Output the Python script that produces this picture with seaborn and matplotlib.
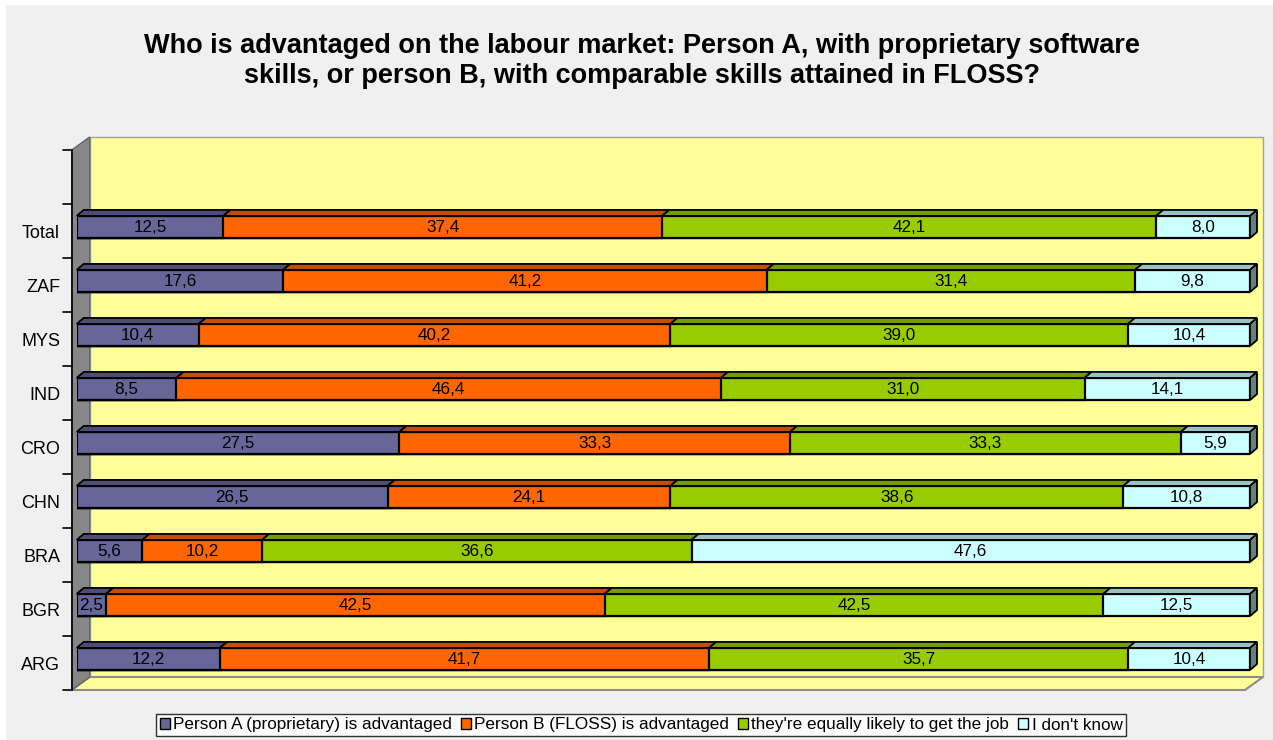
import matplotlib
matplotlib.use("Agg")
import matplotlib.pyplot as plt
import seaborn as sns
from matplotlib.patches import Polygon, Rectangle, Patch
from matplotlib.lines import Line2D
from matplotlib.transforms import IdentityTransform, ScaledTranslation
import matplotlib.colors as mcolors

# ---- data -------------------------------------------------------------
countries = ["Total", "ZAF", "MYS", "IND", "CRO", "CHN", "BRA", "BGR", "ARG"]
person_a = [12.5, 17.6, 10.4, 8.5, 27.5, 26.5, 5.6, 2.5, 12.2]
person_b = [37.4, 41.2, 40.2, 46.4, 33.3, 24.1, 10.2, 42.5, 41.7]
equal = [42.1, 31.4, 39.0, 31.0, 33.3, 38.6, 36.6, 42.5, 35.7]
dont_know = [8.0, 9.8, 10.4, 14.1, 5.9, 10.8, 47.6, 12.5, 10.4]

series_names = [
    "Person A (proprietary) is advantaged",
    "Person B (FLOSS) is advantaged",
    "they're equally likely to get the job",
    "I don't know",
]
series_colors = ["#666699", "#FF6600", "#99CC00", "#CCFFFF"]
title = ("Who is advantaged on the labour market: Person A, with proprietary software\n"
         "skills, or person B, with comparable skills attained in FLOSS?")

# ---- style ------------------------------------------------------------
sns.set_style("white")
plt.rcParams["font.family"] = ["Liberation Sans", "DejaVu Sans"]
plt.rcParams["text.color"] = "black"

W, H = 1273, 740
fig = plt.figure(figsize=(W / 100, H / 100), dpi=100, facecolor="#F0F0F0")
fig.add_artist(Rectangle((0, 1 - 5 / H), 1, 5 / H, transform=fig.transFigure,
                         facecolor="white", edgecolor="none"))
fig.add_artist(Rectangle((0, 0), 6 / W, 1, transform=fig.transFigure,
                         facecolor="white", edgecolor="none"))

ax = fig.add_axes([76.7 / W, 54 / H, 1173.3 / W, 540 / H])
ax.patch.set_visible(False)

series = [person_a, person_b, equal, dont_know]
n = len(countries)
bar_w = 0.41

# stacked bars: draw cumulative totals from the outermost segment inward
cums = []
run = [0.0] * n
for s in series:
    run = [r + v for r, v in zip(run, s)]
    cums.append(run)
for k in reversed(range(len(series))):
    sns.barplot(x=cums[k], y=countries, order=countries, orient="h",
                color=series_colors[k], saturation=1, width=bar_w,
                edgecolor="black", linewidth=1.6, ax=ax, zorder=2)

ax.set_xlim(0, 100)
ax.set_ylim(n - 0.5, -1.5)
for sp in ax.spines.values():
    sp.set_visible(False)
ax.set_xticks([])
ax.set_xlabel("")
ax.set_ylabel("")
ax.set_yticks(range(n))
ax.set_yticklabels(countries, fontsize=13, color="black")
ax.tick_params(axis="y", length=0, pad=12)
for lab in ax.get_yticklabels():
    lab.set_transform(lab.get_transform() +
                      ScaledTranslation(0, -0.04, fig.dpi_scale_trans))

# ---- pseudo-3D frame --------------------------------------------------
FRONT = (-5, -4)
BACK = (13, 9)
BAR_DEPTH = (7, 6)


def px(x, y, off=(0, 0)):
    p = ax.transData.transform((x, y))
    return (p[0] + off[0], p[1] + off[1])


def poly(pts, fc, ec, lw=1.0, z=0.5):
    ax.add_patch(Polygon(pts, closed=True, transform=IdentityTransform(),
                         facecolor=fc, edgecolor=ec, linewidth=lw,
                         clip_on=False, zorder=z))


y_top, y_bot = -1.5, n - 0.5
# back wall
poly([px(0, y_top, BACK), px(100, y_top, BACK), px(100, y_bot, BACK), px(0, y_bot, BACK)],
     "#FFFF99", "#A0A0A0", 1.0, 0.3)
# floor
poly([px(0, y_bot, FRONT), px(100, y_bot, FRONT), px(100, y_bot, BACK), px(0, y_bot, BACK)],
     "#FFFF99", "#8C8C8C", 1.5, 0.4)
# left wall
poly([px(0, y_top, FRONT), px(0, y_bot, FRONT), px(0, y_bot, BACK), px(0, y_top, BACK)],
     "#878787", "#666666", 1.0, 0.5)

# vertical axis line and tick marks on the front plane
a0, a1 = px(0, y_top, FRONT), px(0, y_bot, FRONT)
ax.add_line(Line2D([a0[0], a1[0]], [a0[1], a1[1]], color="black", lw=1.2,
                   transform=IdentityTransform(), clip_on=False, zorder=0.6))
for k in range(n + 2):
    t = px(0, y_top + k, FRONT)
    ax.add_line(Line2D([t[0] - 9, t[0]], [t[1], t[1]], color="black", lw=1.2,
                       transform=IdentityTransform(), clip_on=False, zorder=0.6))


def shade(c, f):
    r, g, b = mcolors.to_rgb(c)
    return (r * f, g * f, b * f)


# top faces of each segment, side face at the right end, and value labels
for i in range(n):
    yt = i - bar_w / 2
    yb = i + bar_w / 2
    left = 0.0
    for k, s in enumerate(series):
        v = s[i]
        right = left + v
        poly([px(left, yt), px(right, yt), px(right, yt, BAR_DEPTH), px(left, yt, BAR_DEPTH)],
             shade(series_colors[k], 0.76), "black", 1.3, 3)
        ax.text(left + v / 2, i, f"{v:.1f}".replace(".", ","), ha="center",
                va="center", fontsize=12.3, color="black", zorder=4)
        left = right
    poly([px(left, yt), px(left, yb), px(left, yb, BAR_DEPTH), px(left, yt, BAR_DEPTH)],
         shade(series_colors[-1], 0.5), "black", 1.3, 3)

# ---- title and legend -------------------------------------------------
fig.text(642 / W, 1 - 61 / H, title, ha="center", va="center", fontsize=19.5,
         fontweight="bold", linespacing=1.2, color="black")

handles = [Patch(facecolor=c, edgecolor="black", linewidth=1.0) for c in series_colors]
leg = fig.legend(handles, series_names, loc="center", ncol=4,
                 bbox_to_anchor=(641 / W, 1 - 725 / H), fontsize=12.3,
                 frameon=True, fancybox=False, edgecolor="black",
                 handlelength=0.6, handleheight=0.6, handletextpad=0.2,
                 columnspacing=0.5, borderpad=0.2, borderaxespad=0)
leg.get_frame().set_linewidth(1.0)
leg.get_frame().set_facecolor("white")

fig.savefig("out.png", dpi=100, facecolor=fig.get_facecolor())
